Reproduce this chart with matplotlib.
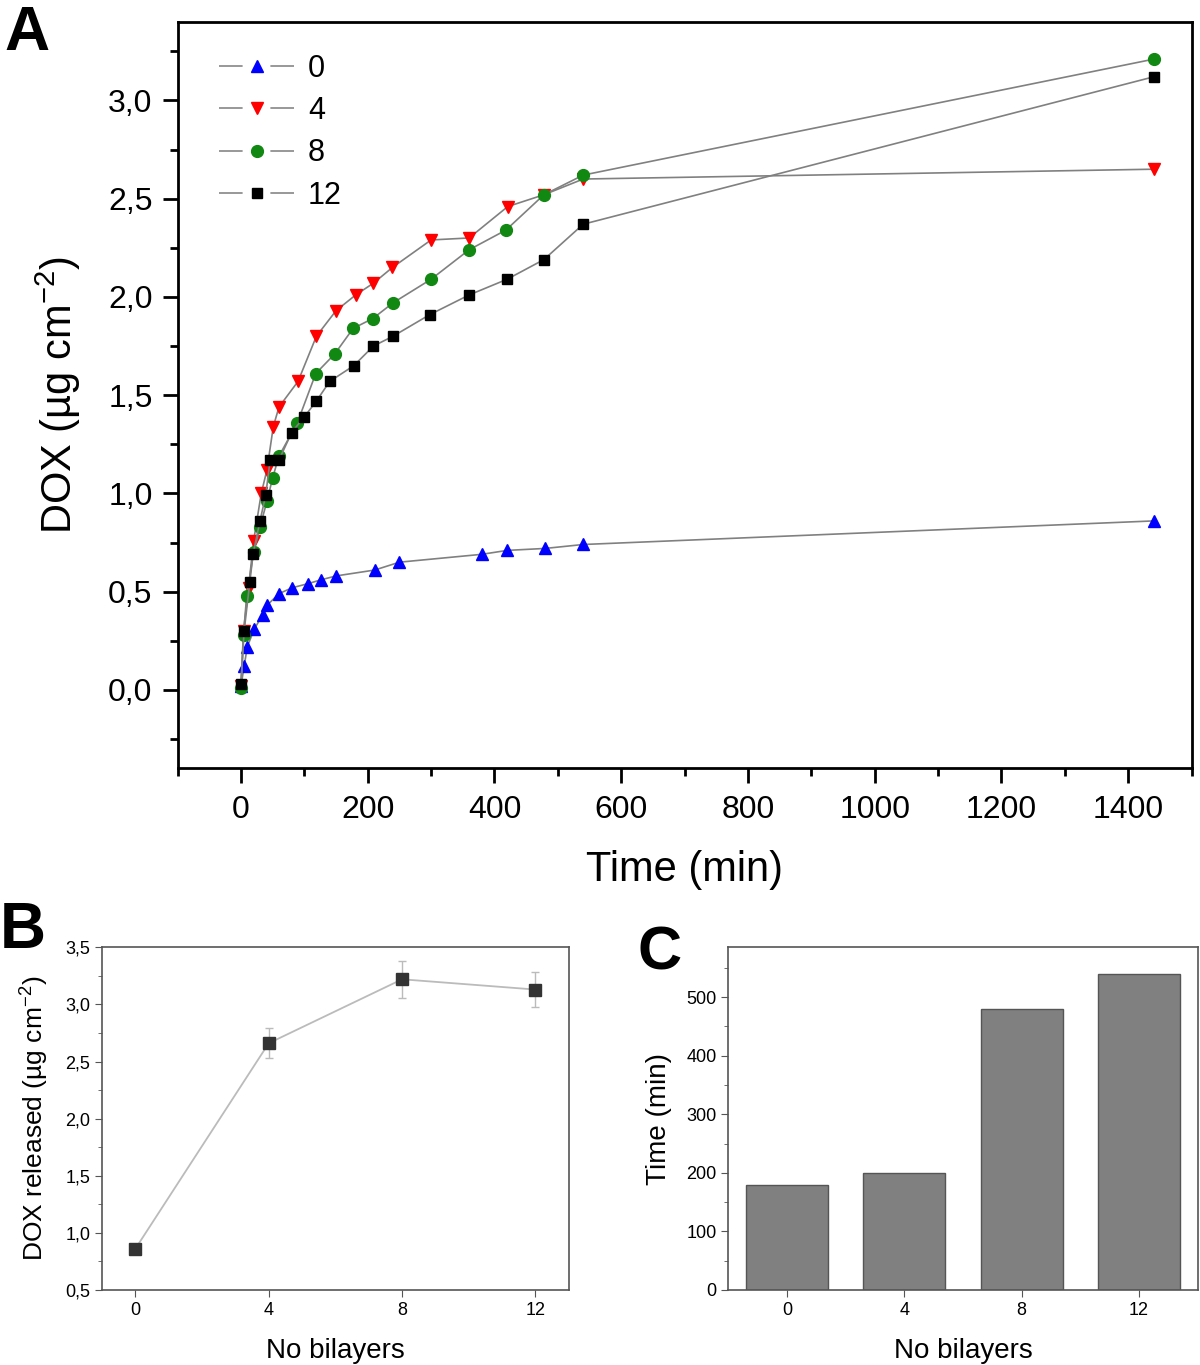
import matplotlib
matplotlib.use("Agg")
import matplotlib.pyplot as plt
from matplotlib.lines import Line2D
from matplotlib.ticker import MultipleLocator, FuncFormatter

plt.rcParams['font.family'] = ['Liberation Sans', 'DejaVu Sans']
plt.rcParams['mathtext.fontset'] = 'custom'
plt.rcParams['mathtext.rm'] = 'Liberation Sans'
plt.rcParams['mathtext.it'] = 'Liberation Sans'
plt.rcParams['lines.scale_dashes'] = False

# Panel A: DOX release vs time for each number of bilayers
t0 = [0, 5, 10, 21, 34, 41, 60, 81, 105, 126, 150, 211, 250, 380, 420, 480, 540, 1440]
dox0 = [0.02, 0.12, 0.22, 0.31, 0.38, 0.43, 0.49, 0.52, 0.54, 0.56, 0.58, 0.61, 0.65, 0.69, 0.71, 0.72, 0.74, 0.86]

t4 = [0, 4, 12, 20, 32, 41, 51, 60, 90, 119, 150, 181, 209, 239, 300, 360, 421, 478, 540, 1440]
dox4 = [0.02, 0.30, 0.52, 0.76, 1.00, 1.12, 1.34, 1.44, 1.57, 1.80, 1.93, 2.01, 2.07, 2.15, 2.29, 2.30, 2.46, 2.52, 2.60, 2.65]

t8 = [0, 4, 9, 20, 30, 41, 50, 60, 89, 118, 148, 177, 208, 240, 300, 360, 418, 478, 540, 1440]
dox8 = [0.01, 0.28, 0.48, 0.70, 0.83, 0.96, 1.08, 1.19, 1.36, 1.61, 1.71, 1.84, 1.89, 1.97, 2.09, 2.24, 2.34, 2.52, 2.62, 3.21]

t12 = [0, 5, 14, 19, 30, 39, 46, 60, 80, 100, 119, 140, 178, 209, 240, 298, 360, 420, 478, 540, 1440]
dox12 = [0.03, 0.30, 0.55, 0.69, 0.86, 0.99, 1.17, 1.17, 1.31, 1.39, 1.47, 1.57, 1.65, 1.75, 1.80, 1.91, 2.01, 2.09, 2.19, 2.37, 3.12]

# Panel B: total released per bilayer count
bilayers = [0, 4, 8, 12]
released = [0.86, 2.66, 3.22, 3.13]
released_err = [0.02, 0.13, 0.16, 0.15]

# Panel C: time to plateau
plateau_time = [180, 200, 480, 540]

comma = FuncFormatter(lambda v, p: f"{v:.1f}".replace('.', ','))

fig = plt.figure(figsize=(12, 13.65), dpi=100)

# ---- Panel A ----
axA = fig.add_axes([0.148, 0.437, 0.845, 0.547])
series = [
    (t0, dox0, '^', '#0000ff', '0', 9),
    (t4, dox4, 'v', '#ff0000', '4', 9),
    (t8, dox8, 'o', '#118811', '8', 8.5),
    (t12, dox12, 's', '#000000', '12', 7.5),
]
handles = []
for t, d, m, c, lab, ms in series:
    axA.plot(t, d, color='#808080', lw=1.2, marker=m, ms=ms, mfc=c, mec=c)
    # legend proxy: gray line with a gap around the marker, Origin style
    handles.append(Line2D([], [], color='#909090', lw=1.3, ls=(0, (17, 20)),
                          marker=m, ms=ms, mfc=c, mec=c, label=lab))

axA.set_xlim(-100, 1500)
axA.set_ylim(-0.4, 3.4)
axA.xaxis.set_major_locator(MultipleLocator(200))
axA.xaxis.set_minor_locator(MultipleLocator(100))
axA.yaxis.set_major_locator(MultipleLocator(0.5))
axA.yaxis.set_minor_locator(MultipleLocator(0.25))
axA.yaxis.set_major_formatter(comma)
axA.tick_params(which='both', direction='out', width=2, labelsize=23)
axA.tick_params(which='major', length=11)
axA.tick_params(which='minor', length=6)
axA.tick_params(axis='x', which='major', pad=8)
axA.tick_params(axis='y', which='major', pad=7)
for s in axA.spines.values():
    s.set_linewidth(2)
axA.set_xlabel('Time (min)', fontsize=30, labelpad=18)
axA.set_ylabel('DOX (µg cm$^{-2}$)', fontsize=30, labelpad=18)
axA.legend(handles=handles, loc='upper left', frameon=False, fontsize=22,
           handlelength=2.5, handletextpad=0.4, labelspacing=0.4,
           borderpad=0, borderaxespad=0, numpoints=1,
           bbox_to_anchor=(0.041, 0.957))

fig.text(0.004, 1 - 50 / 1365, 'A', fontsize=45, fontweight='bold',
         va='baseline', ha='left')

# ---- Panel B ----
axB = fig.add_axes([0.085, 0.055, 0.389, 0.251])
axB.errorbar(bilayers, released, yerr=released_err, color='#bbbbbb', lw=1.3,
             ecolor='#bbbbbb', elinewidth=1, capsize=3, marker='s', ms=8,
             mfc='#333333', mec='#333333')
axB.set_xlim(-1, 13)
axB.set_ylim(0.5, 3.5)
axB.set_xticks(bilayers)
axB.yaxis.set_major_locator(MultipleLocator(0.5))
axB.yaxis.set_minor_locator(MultipleLocator(0.25))
axB.yaxis.set_major_formatter(comma)
axB.tick_params(which='both', direction='out', color='#555555', labelsize=13)
axB.tick_params(which='major', length=5)
axB.tick_params(which='minor', length=3)
for s in axB.spines.values():
    s.set_color('#555555')
    s.set_linewidth(1.2)
axB.set_xlabel('No bilayers', fontsize=20, labelpad=14)
axB.set_ylabel('DOX released (µg cm$^{-2}$)', fontsize=19, labelpad=10)
fig.text(0.0, 1 - 948 / 1365, 'B', fontsize=46, fontweight='bold',
         va='baseline', ha='left')

# ---- Panel C ----
axC = fig.add_axes([0.607, 0.055, 0.391, 0.251])
axC.bar(bilayers, plateau_time, width=2.8, color='#808080', edgecolor='#555555', lw=1)
axC.set_xlim(-2, 14)
axC.set_ylim(0, 585)
axC.set_xticks(bilayers)
axC.yaxis.set_major_locator(MultipleLocator(100))
axC.yaxis.set_minor_locator(MultipleLocator(50))
axC.tick_params(which='both', direction='out', color='#555555', labelsize=13)
axC.tick_params(which='major', length=5)
axC.tick_params(which='minor', length=3)
for s in axC.spines.values():
    s.set_color('#555555')
    s.set_linewidth(1.2)
axC.set_xlabel('No bilayers', fontsize=20, labelpad=14)
axC.set_ylabel('Time (min)', fontsize=20, labelpad=10)
fig.text(638 / 1200, 1 - 970 / 1365, 'C', fontsize=44, fontweight='bold',
         va='baseline', ha='left')

fig.savefig('out.png', dpi=100)
